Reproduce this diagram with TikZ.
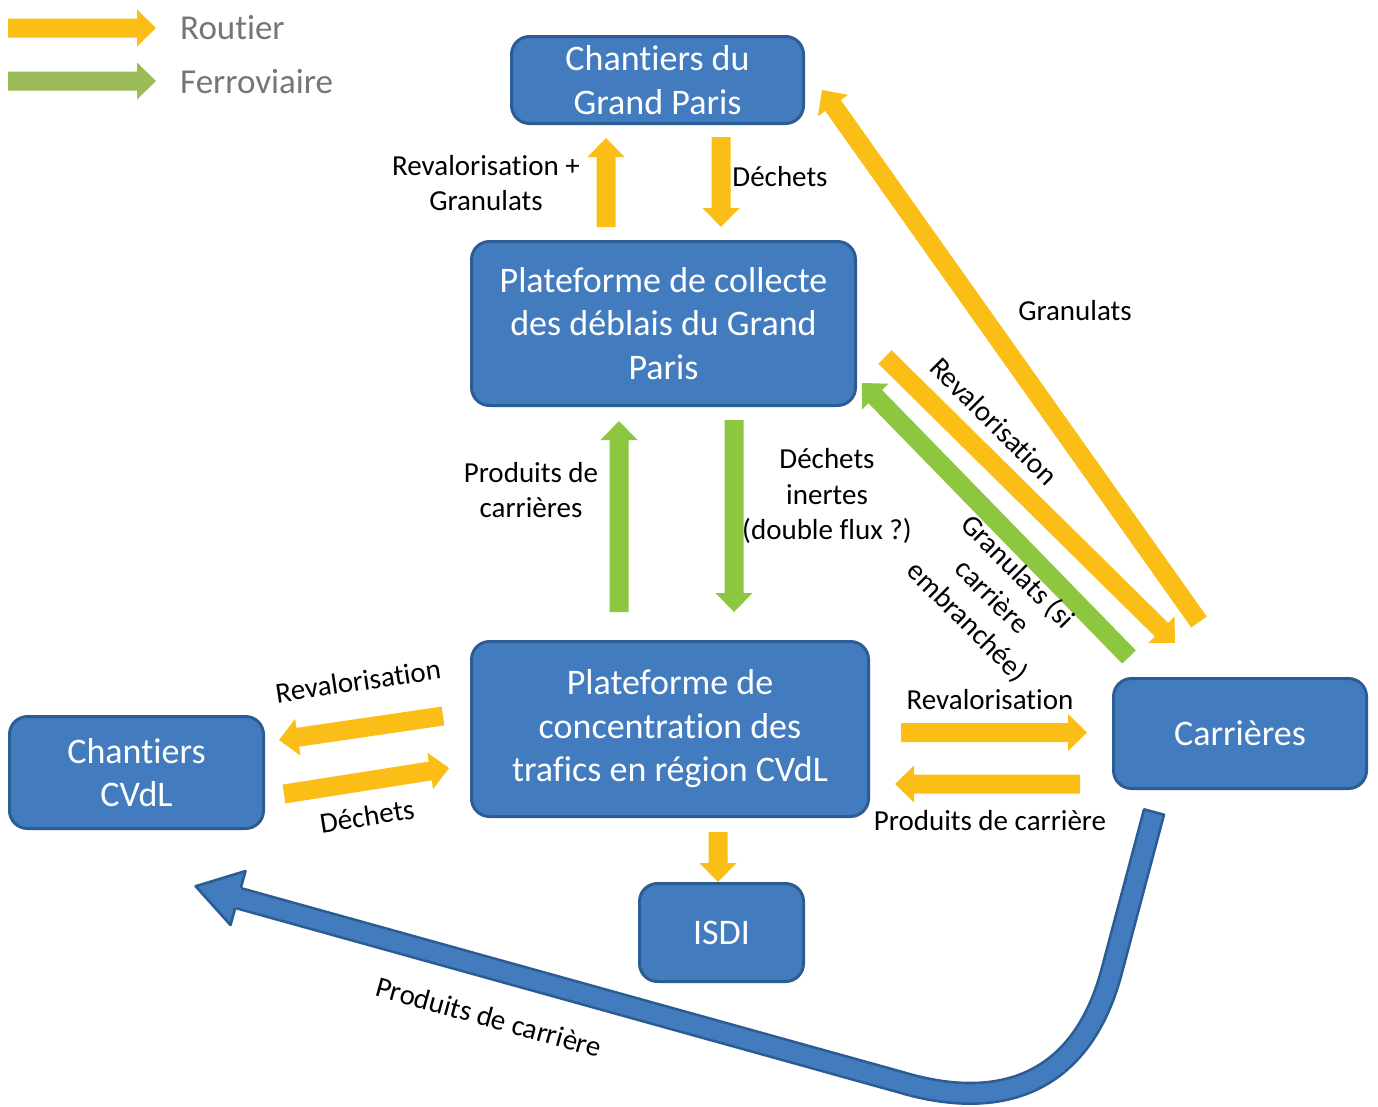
\documentclass[tikz,border=0pt]{standalone}
\usepackage{fontspec}
\setmainfont{Carlito}[Ligatures=CommonOff]
\usetikzlibrary{calc}
\definecolor{boxblue}{RGB}{66,123,190}
\definecolor{boxborder}{RGB}{44,92,148}
\definecolor{roadyel}{RGB}{251,190,22}
\definecolor{railgreen}{RGB}{141,198,63}
\definecolor{leggreen}{RGB}{155,187,89}
\definecolor{leggray}{RGB}{118,118,118}
\newcommand{\blockarrow}[3]{%
  \path ($(#2)!19pt!(#1)$) coordinate (tmpB);
  \fill[#3] ($(#1)!9.5pt!90:(#2)$) -- ($(tmpB)!9.5pt!-90:(#1)$) -- ($(tmpB)!18.5pt!-90:(#1)$) -- (#2) -- ($(tmpB)!18.5pt!90:(#1)$) -- ($(tmpB)!9.5pt!90:(#1)$) -- ($(#1)!9.5pt!-90:(#2)$) -- cycle;}
\begin{document}
\begin{tikzpicture}[x=1pt,y=-1pt,
  box/.style={draw=boxborder, line width=3pt, fill=boxblue, rounded corners=18pt, text=white, font=\fontsize{36}{43.5}\selectfont, align=center, inner sep=0pt},
  lbl/.style={font=\fontsize{29}{35.5}\selectfont, align=center, inner sep=0pt, text=black},
  leg/.style={font=\fontsize{35}{42}\selectfont, text=leggray, anchor=west, inner sep=0pt}]
\useasboundingbox (0,0) rectangle (1378,1106);
\fill[white] (0,0) rectangle (1378,1106);
% boxes
\node[box, minimum width=292pt, minimum height=87pt] (gp) at (657.5,80) {Chantiers du\\Grand Paris};
\node[box, minimum width=384pt, minimum height=164pt] (col) at (663.5,323.5) {Plateforme de collecte\\des déblais du Grand\\Paris};
\node[box, minimum width=397pt, minimum height=175pt] (con) at (670,729) {Plateforme de\\concentration des\\trafics en région CVdL};
\node[box, minimum width=254pt, minimum height=112pt] (cvdl) at (136.5,772.5) {Chantiers\\CVdL};
\node[box, minimum width=253pt, minimum height=110pt] (car) at (1240,733.5) {Carrières};
\node[box, minimum width=164pt, minimum height=98pt] (isdi) at (721.5,932.5) {ISDI};
% legend
\coordinate (lyS) at (8,28); \coordinate (lyE) at (156,28);
\coordinate (lgS) at (8,81); \coordinate (lgE) at (156,81);
\blockarrow{lyS}{lyE}{roadyel}
\blockarrow{lgS}{lgE}{leggreen}
\node[leg] (legR) at (180,28) {Routier};
\node[leg] (legF) at (180,82) {Ferroviaire};
% arrow end points
\coordinate (colUpS) at (606,227); \coordinate (gpIn) at (606,138);
\coordinate (gpOut) at (721,137); \coordinate (colDnE) at (721,227);
\coordinate (conUp) at (619,612); \coordinate (colIn) at (619,421);
\coordinate (colDn) at (734,420); \coordinate (conIn) at (734,612);
\coordinate (carG) at (1199,622); \coordinate (gpG) at (822,90);
\coordinate (colR) at (885,357); \coordinate (carR) at (1175,643);
\coordinate (carGr) at (1129,657); \coordinate (colGr) at (862,383);
\coordinate (conR1) at (901,732.5); \coordinate (carR1) at (1087,732.5);
\coordinate (carP) at (1080,784); \coordinate (conP) at (895,784);
\coordinate (conL) at (443,716); \coordinate (cvdlR) at (279,740);
\coordinate (cvdlD) at (284,794); \coordinate (conD) at (449,768);
\coordinate (conI) at (718,832); \coordinate (isdiT) at (718,882);
% road / rail arrows
\blockarrow{colUpS}{gpIn}{roadyel}
\blockarrow{gpOut}{colDnE}{roadyel}
\blockarrow{conUp}{colIn}{railgreen}
\blockarrow{colDn}{conIn}{railgreen}
\blockarrow{carG}{gpG}{roadyel}
\blockarrow{colR}{carR}{roadyel}
\blockarrow{carGr}{colGr}{railgreen}
\blockarrow{conR1}{carR1}{roadyel}
\blockarrow{carP}{conP}{roadyel}
\blockarrow{conL}{cvdlR}{roadyel}
\blockarrow{cvdlD}{conD}{roadyel}
\blockarrow{conI}{isdiT}{roadyel}
% big blue arrow
\coordinate (carS) at (1154,812);
\coordinate (carM) at (1112,970);
\coordinate (carN) at (900,1082);
\coordinate (cvB) at (238,898);
\draw[line width=2.6pt, draw=boxborder, double=boxblue, double distance=18pt]
  (carS) -- (carM) .. controls (1082,1085) and (1000,1112) .. (carN) -- (cvB);
\draw[line width=2.6pt, draw=boxborder, line cap=round] ($(carS)!10.3pt!90:(carM)$) -- ($(carS)!10.3pt!-90:(carM)$);
\fill[boxblue] ($(cvB)!10.3pt!90:(carN)$) -- ($(cvB)!28pt!90:(carN)$) -- ($(cvB)!-44pt!(carN)$) -- ($(cvB)!28pt!-90:(carN)$) -- ($(cvB)!10.3pt!-90:(carN)$) -- cycle;
\draw[line width=2.6pt, draw=boxborder, line join=round] ($(cvB)!10.3pt!90:(carN)$) -- ($(cvB)!28pt!90:(carN)$) -- ($(cvB)!-44pt!(carN)$) -- ($(cvB)!28pt!-90:(carN)$) -- ($(cvB)!10.3pt!-90:(carN)$);
% labels
\node[lbl] (lRG) at (486,183) {Revalorisation +\\Granulats};
\node[lbl] (lDe1) at (780,177) {Déchets};
\node[lbl] (lGr) at (1075,311) {Granulats};
\node[lbl, rotate=-45] (lRev2) at (994,421) {Revalorisation};
\node[lbl, rotate=-45] (lGc) at (992,597) {Granulats (si\\carrière\\embranchée)};
\node[lbl] (lPc) at (531,490) {Produits de\\carrières};
\node[lbl] (lDi) at (827,496) {Déchets\\inertes\\(double flux ?)};
\node[lbl, rotate=8.5] (lRv3) at (358,681) {Revalorisation};
\node[lbl, rotate=9] (lDe3) at (367,816) {Déchets};
\node[lbl] (lRv4) at (990,700) {Revalorisation};
\node[lbl] (lPc2) at (990,821) {Produits de carrière};
\node[lbl, rotate=-15.5] (lPc3) at (489,1017) {Produits de carrière};
\end{tikzpicture}
\end{document}
